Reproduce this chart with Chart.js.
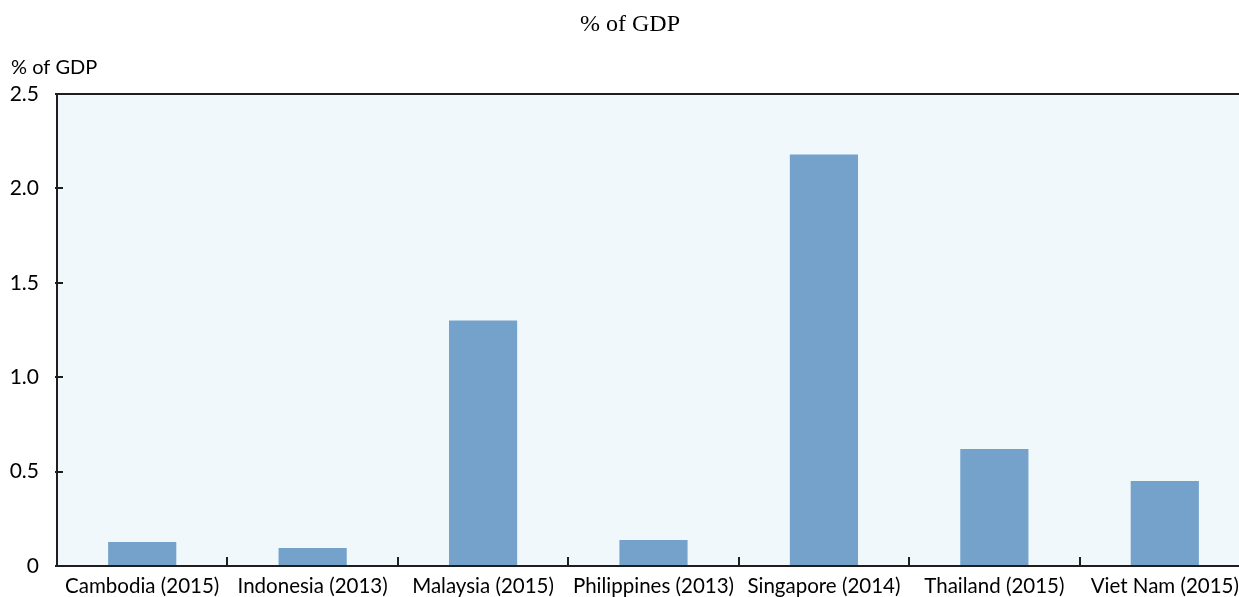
<!DOCTYPE html>
<html>
<head>
<meta charset="utf-8">
<script src="https://cdn.jsdelivr.net/npm/chart.js@4/dist/chart.umd.min.js"></script>
<style>
  html, body { margin: 0; padding: 0; background: #fff; overflow: hidden; }
  #wrap { width: 1239px; height: 597px; overflow: hidden; }
</style>
</head>
<body>
<div id="wrap"><canvas id="myChart" width="1250" height="597"></canvas></div>
<script>
const countries = ["Cambodia (2015)", "Indonesia (2013)", "Malaysia (2015)", "Philippines (2013)",
  "Singapore (2014)", "Thailand (2015)", "Viet Nam (2015)"];
const shareOfGdp = [0.127, 0.095, 1.30, 0.138, 2.18, 0.62, 0.45];
const yTicks = [0, 0.5, 1.0, 1.5, 2.0, 2.5];
const chartTitle = "% of GDP";
const yUnit = "% of GDP";

const labelFont = "Lato, 'Open Sans', sans-serif";

// plot background, frame, inward ticks and the titles
const framePlugin = {
  id: "frame",
  beforeDraw(chart) {
    const { ctx, chartArea: a } = chart;
    ctx.save();
    ctx.fillStyle = "#F0F8FC";
    ctx.fillRect(a.left, a.top, a.right - a.left, a.bottom - a.top);
    ctx.restore();
  },
  afterDraw(chart) {
    const { ctx, chartArea: a } = chart;
    const x = chart.scales.x, y = chart.scales.y;
    ctx.save();
    ctx.strokeStyle = "#1e1e1e";
    ctx.lineWidth = 2;
    ctx.beginPath();
    ctx.moveTo(a.left, a.bottom);
    ctx.lineTo(a.left, a.top);
    ctx.lineTo(a.right, a.top);
    ctx.moveTo(a.left, a.bottom);
    ctx.lineTo(a.right, a.bottom);
    // y ticks
    yTicks.forEach(v => {
      const py = Math.round(y.getPixelForValue(v));
      ctx.moveTo(a.left - 2, py);
      ctx.lineTo(a.left + 6, py);
    });
    // x ticks between categories
    for (let i = 1; i < countries.length; i++) {
      const px = Math.round((x.getPixelForValue(i - 1) + x.getPixelForValue(i)) / 2);
      ctx.moveTo(px, a.bottom);
      ctx.lineTo(px, a.bottom - 9);
    }
    ctx.stroke();

    ctx.fillStyle = "#000";
    ctx.font = "24px 'Liberation Serif', serif";
    ctx.textAlign = "center";
    ctx.textBaseline = "middle";
    ctx.fillText(chartTitle, 630, 25);

    ctx.font = "20px " + labelFont;
    ctx.textAlign = "left";
    ctx.fillText(yUnit, 11, 68);
    ctx.restore();
  }
};

const ctx = document.getElementById("myChart");
new Chart(ctx, {
  type: "bar",
  data: {
    labels: countries,
    datasets: [{
      label: yUnit,
      data: shareOfGdp,
      backgroundColor: "#74A2CB",
      borderWidth: 0,
      categoryPercentage: 1.0,
      barPercentage: 0.4
    }]
  },
  options: {
    responsive: false,
    animation: false,
    layout: { padding: { top: 94, right: 0, left: 0, bottom: 0 } },
    plugins: {
      legend: { display: false },
      title: { display: false },
      tooltip: { enabled: false }
    },
    scales: {
      x: {
        grid: { display: false },
        border: { display: false },
        ticks: {
          color: "#000",
          font: { family: labelFont, size: 20.5 },
          maxRotation: 0,
          autoSkip: false,
          padding: 0
        },
        afterFit(scale) { scale.height = 31; }
      },
      y: {
        min: 0,
        max: 2.5,
        grid: { display: false },
        border: { display: false },
        afterBuildTicks(scale) { scale.ticks = yTicks.map(v => ({ value: v })); },
        ticks: {
          color: "#000",
          font: { family: labelFont, size: 21 },
          padding: 10,
          callback: v => v === 0 ? "0" : v.toFixed(1)
        },
        afterFit(scale) { scale.width = 57; }
      }
    }
  },
  plugins: [framePlugin]
});
</script>
</body>
</html>
